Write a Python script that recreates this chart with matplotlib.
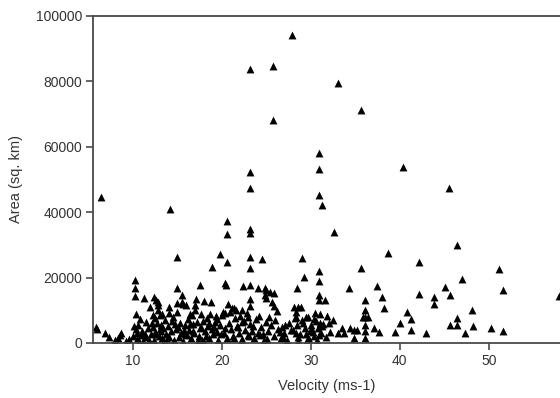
import matplotlib
matplotlib.use("Agg")
import matplotlib.pyplot as plt

plt.rcParams['font.family'] = ['Liberation Sans', 'DejaVu Sans']

# Velocity (ms-1) and Area (sq. km)
velocity = [
    # 5.5 - 10
    5.9, 6.0, 6.4, 6.9, 7.3, 8.0, 8.3, 8.5, 8.6, 9.2, 9.5,
    # 10 - 12
    10.2, 10.2, 10.2, 10.3, 10.1, 10.3, 10.5, 10.0, 10.4, 10.7, 10.9, 10.6,
    11.2, 11.0, 11.3, 11.5, 11.7, 11.8, 11.9, 12.0,
    # 12 - 15
    12.4, 12.6, 12.8, 12.8, 12.8, 12.5, 12.7, 12.3, 12.5, 12.9, 12.4, 13.0,
    13.1, 13.2, 13.3, 13.5, 13.6, 13.4, 13.7, 13.9, 14.0, 14.1, 14.2, 14.0,
    14.3, 14.4, 14.6, 14.8, 14.5,
    # 15 - 18
    15.0, 15.0, 15.5, 15.0, 15.6, 15.3, 15.1, 15.4, 15.2, 15.6, 15.8, 15.9,
    16.0, 16.2, 16.3, 16.5, 16.6, 16.8, 16.9, 17.0, 17.1, 17.2, 17.4, 17.5,
    17.5, 17.7, 17.8, 17.9, 16.4, 15.5,
    # 18 - 21
    18.0, 18.1, 18.3, 18.4, 18.5, 18.7, 18.8, 18.9, 18.9, 19.0, 19.2, 19.4,
    19.6, 19.8, 19.8, 20.0, 20.1, 20.2, 20.4, 20.5, 20.6, 20.6, 20.6, 20.6,
    20.8, 20.9, 20.3,
    # 21 - 24
    21.0, 21.2, 21.3, 21.5, 21.6, 21.7, 21.9, 22.0, 22.2, 22.4, 22.3, 22.6,
    22.8, 22.9, 23.2, 23.2, 23.2, 23.2, 23.2, 23.2, 23.2, 23.2, 23.2, 23.1,
    23.4, 23.6, 23.8, 23.1, 22.3, 22.9, 21.1,
    # 24 - 28
    24.0, 24.2, 24.5, 24.8, 24.8, 25.4, 25.8, 24.4, 24.6, 24.9, 25.1, 25.2,
    25.5, 25.7, 25.7, 25.9, 26.0, 26.3, 26.6, 26.8, 27.0, 27.3, 27.5, 27.8,
    27.9, 25.0, 25.6, 25.8, 24.9, 26.2,
    # 28 - 33
    28.1, 28.4, 28.5, 28.9, 28.2, 28.4, 28.3, 28.5, 28.6, 28.95, 29.2, 29.0,
    29.3, 29.5, 29.7, 29.8, 30.0, 30.2, 30.4, 30.6, 30.9, 30.9, 30.9, 30.9,
    30.9, 30.9, 30.9, 31.0, 30.8, 31.1, 31.3, 31.6, 31.4, 31.8, 32.0, 31.7,
    32.5, 32.6, 28.3, 28.3, 29.5, 30.3, 31.0, 30.9,
    # 33 - 39
    33.1, 33.1, 33.5, 33.7, 34.3, 34.4, 34.8, 34.8, 35.2, 35.6, 35.6, 36.1,
    36.1, 36.1, 36.1, 35.8, 36.4, 36.1, 36.1, 37.4, 37.1, 37.6, 38.0, 38.2,
    38.7,
    # 39 - 58
    39.5, 40.0, 40.4, 40.8, 41.2, 41.3, 42.1, 42.1, 42.9, 43.8, 43.8, 45.1,
    45.5, 45.6, 45.6, 46.4, 46.4, 46.4, 47.0, 47.3, 48.1, 48.2, 50.3, 51.1,
    51.6, 51.6, 57.9,
    # extra dense low points
    10.8, 11.4, 12.1, 12.6, 13.0, 13.8, 14.7, 15.7, 16.1, 16.7, 17.3, 17.6,
    18.2, 18.6, 19.1, 19.5, 19.9, 20.3, 21.4, 21.8, 22.5, 23.0, 23.5, 24.1,
    24.7, 25.3, 26.5, 27.1, 28.8, 29.1, 29.6, 30.1, 30.5, 31.2, 32.2,
    11.1, 12.2, 13.3, 14.9, 16.4, 17.0, 18.0, 19.3, 20.7, 22.1, 24.3, 26.9,
    28.0, 29.9, 30.7,
]

area = [
    # 5.5 - 10
    5000, 4200, 44600, 3200, 1700, 900, 1600, 2500, 3000, 600, 1200,
    # 10 - 12
    19300, 16900, 14300, 9000, 5200, 4200, 3000, 2000, 1200, 600, 2500, 5500,
    13600, 3800, 1800, 6500, 4500, 900, 10900, 2800,
    # 12 - 15
    13900, 13000, 12600, 11600, 10100, 7500, 6200, 4800, 3400, 2200, 1000, 8500,
    5500, 3800, 1500, 600, 7000, 4600, 2800, 5200, 9100, 10900, 41000, 1900,
    3600, 6800, 1000, 4400, 8000,
    # 15 - 18
    26400, 16800, 14700, 12100, 12000, 6000, 4800, 3200, 1800, 700, 5500, 2600,
    11600, 7200, 4000, 1400, 8500, 5800, 3000, 10000, 13400, 6500, 2000, 17700,
    4600, 8800, 900, 6800, 8800, 12400,
    # 18 - 21
    12800, 3600, 7600, 5200, 1600, 9000, 12400, 23300, 4200, 2600, 6400, 3300,
    1000, 27100, 5400, 8600, 9600, 3000, 18300, 17700, 37300, 33200, 24800, 1500,
    6000, 9600, 9100,
    # 21 - 24
    4300, 2200, 10600, 7500, 10100, 5200, 3100, 8400, 1200, 17400, 6300, 4100,
    9200, 2500, 83800, 52300, 47400, 34900, 33500, 26200, 22900, 17700, 11300, 5800,
    3600, 1500, 7200, 13300, 10100, 8000, 10800,
    # 24 - 28
    16800, 8300, 25700, 16800, 14700, 15700, 11400, 4800, 2800, 6400, 1200, 3800,
    5600, 84700, 68200, 2100, 7000, 4200, 1600, 5000, 3000, 800, 6100, 4000,
    94200, 13600, 12400, 15200, 16200, 9800,
    # 28 - 33
    11100, 16900, 11100, 11100, 7600, 5500, 3200, 1800, 500, 25900, 20300, 7000,
    4500, 2600, 8000, 1200, 5600, 3400, 2000, 6600, 58100, 53200, 45300, 22000,
    19000, 14700, 13100, 8800, 4500, 3000, 42200, 13100, 5800, 8300, 6000, 1800,
    7000, 34000, 9500, 8000, 8000, 7200, 6200, 2400,
    # 33 - 39
    79500, 3000, 4500, 3000, 16900, 4700, 1400, 4000, 4000, 71300, 22800, 13100,
    10100, 8000, 5500, 7800, 7800, 3700, 1500, 17500, 4700, 3300, 13900, 10600,
    27400,
    # 39 - 58
    3300, 6000, 53800, 9500, 7400, 4000, 24600, 14900, 3200, 14100, 11800, 17000,
    47400, 14700, 5600, 29800, 7700, 5600, 19700, 3200, 10200, 5200, 4700, 22500,
    16200, 3700, 14400,
    # extra dense low points
    7400, 2900, 6100, 2600, 4200, 1100, 5900, 3900, 2300, 3600, 800, 5000,
    2100, 6200, 4900, 7300, 2700, 4700, 1600, 4900, 6600, 2000, 5100, 3200,
    900, 7800, 3400, 5400, 2900, 6100, 800, 3900, 9200, 5300, 3400,
    500, 8700, 8900, 9600, 5800, 11500, 300, 8200, 11800, 500, 2400, 1800,
    4000, 3800, 1000,
]

x_ticks = [10, 20, 30, 40, 50]
y_ticks = [0, 20000, 40000, 60000, 80000, 100000]

fig = plt.figure(figsize=(5.6, 3.98), dpi=100)
ax = fig.add_axes([0.1666, 0.1382, 0.8334, 0.8224])

ax.scatter(velocity, area, marker='^', s=32, color='black', linewidths=0)

ax.set_xlim(5.54, 58.0)
ax.set_ylim(0, 100000)
ax.set_xticks(x_ticks)
ax.set_yticks(y_ticks)
ax.set_xticklabels([str(t) for t in x_ticks])
ax.set_yticklabels([str(t) for t in y_ticks])

spine_col = '#4a4a4a'
for s in ['left', 'bottom', 'top']:
    ax.spines[s].set_color(spine_col)
    ax.spines[s].set_linewidth(1.3)
ax.spines['right'].set_visible(False)

ax.tick_params(axis='both', direction='out', length=5, width=1.2,
               color=spine_col, labelsize=10, labelcolor='#333333', pad=3)
ax.tick_params(top=False, right=False)

ax.set_xlabel('Velocity (ms-1)', fontsize=10.5, color='#333333', labelpad=8)
ax.set_ylabel('Area (sq. km)', fontsize=10.5, color='#333333', labelpad=9)

fig.savefig('out.png', dpi=100)
